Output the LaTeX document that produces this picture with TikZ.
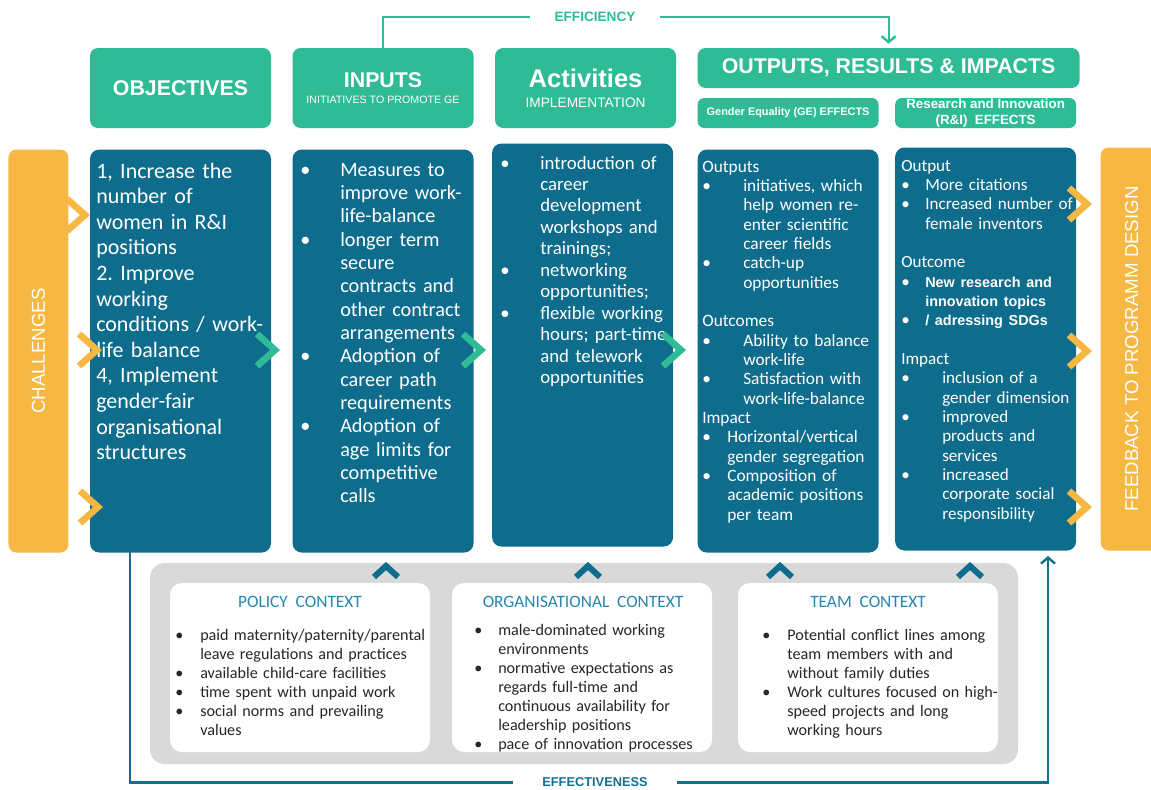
\documentclass[tikz,border=0pt]{standalone}
\usepackage{fontspec}
\setmainfont{Carlito}
\newfontfamily\headfont{Liberation Sans}
\usepackage{xcolor}
\usepackage{tikz}
\definecolor{headteal}{RGB}{46,187,150}
\definecolor{boxblue}{RGB}{14,108,140}
\definecolor{sideorange}{RGB}{246,184,67}
\definecolor{ctxgrey}{RGB}{217,217,217}
\definecolor{ctxblue}{RGB}{37,135,174}
\definecolor{ctxtext}{RGB}{38,38,38}
\definecolor{lineblue}{RGB}{22,110,143}
\usetikzlibrary{arrows.meta, positioning, calc}

\newlength{\bulw}
\newlength{\bulv}
\newcommand{\bi}{\makebox[\bulw][l]{•}}
\newcommand{\ci}{\hspace*{\bulw}}
\newcommand{\bj}{\makebox[\bulv][l]{•}}
\newcommand{\cj}{\hspace*{\bulv}}
\newcommand{\rifont}{\headfont\bfseries\fontsize{10.8}{14.5}\selectfont}
\frenchspacing

\begin{document}
\begin{tikzpicture}[x=0.75pt, y=-0.75pt,
    node distance=15.75pt,
    headbox/.style={rectangle, fill=headteal, rounded corners=6pt, text=white, align=center, inner sep=0pt, minimum width=135.75pt, minimum height=60pt},
    bluebox/.style={rectangle, fill=boxblue, rounded corners=7pt, minimum width=135.75pt, minimum height=302.25pt, inner sep=0pt},
    sidebox/.style={rectangle, fill=sideorange, rounded corners=6pt, minimum width=45pt, minimum height=302.25pt, inner sep=0pt},
    sidelabel/.style={rotate=90, text=white, font=\headfont\fontsize{14}{16}\selectfont},
    bodytext/.style={anchor=base west, inner sep=0pt, text=white, align=left, text width=130pt},
    ctxbox/.style={rectangle, fill=white, rounded corners=9pt, minimum width=195pt, minimum height=126.75pt, inner sep=0pt},
    ctxtitle/.style={text=ctxblue, font=\fontsize{13}{15}\selectfont},
    ctxlist/.style={anchor=base west, inner sep=0pt, text=ctxtext, align=left, text width=190pt, font={\fontsize{12.1}{14.3}\selectfont\setlength{\bulv}{18.75pt}}},
    chevron/.style={line width=5pt, line join=miter},
    upchevron/.style={boxblue, line width=4.5pt, line join=miter},
    flowline/.style={line width=1.6pt},
    flowarrow/.style={line width=1.6pt, -{Straight Barb[length=4.5pt, width=10.5pt, line width=1.8pt]}}
]
    \useasboundingbox (0,0) rectangle (1151,789);

    % Header row
    \node[headbox, font=\headfont\bfseries\fontsize{16}{18}\selectfont] (objhead) at (180.5,88) {OBJECTIVES};
    \node[headbox, right=of objhead, font=\headfont\fontsize{8}{11.6}\selectfont] (inphead) {{\bfseries\fontsize{16}{18}\selectfont INPUTS}\\INITIATIVES TO PROMOTE GE};
    \node[headbox, right=of inphead, font=\headfont\fontsize{10.3}{15}\selectfont] (acthead) {{\bfseries\fontsize{19.2}{21}\selectfont Activities}\\IMPLEMENTATION};
    \node[headbox, anchor=north west, minimum width=286.5pt, minimum height=30pt, font=\headfont\bfseries\fontsize{16}{18}\selectfont] (outhead) at ([xshift=15.75pt]acthead.north east) {OUTPUTS, RESULTS \& IMPACTS};
    \node[headbox, anchor=south west, minimum height=22.5pt, rounded corners=5pt, font=\headfont\bfseries\fontsize{8.2}{10}\selectfont] (gehead) at ([xshift=15.75pt]acthead.south east) {Gender Equality (GE) EFFECTS};
    \node[headbox, right=12pt of gehead, minimum height=22.5pt, rounded corners=5pt, font=\headfont\bfseries\fontsize{10}{12}\selectfont] (rihead) {Research and Innovation\\(R\&I)\ \ EFFECTS};

    % Main boxes
    \node[bluebox, below=of objhead] (objbox) {};
    \node[bluebox, below=of inphead] (inpbox) {};
    \node[bluebox, below=11.25pt of acthead, xshift=-2.25pt] (actbox) {};
    \node[bluebox, below=of gehead] (gebox) {};
    \node[bluebox, below=14.25pt of rihead] (ribox) {};
    \node[sidebox, left=of objbox] (challenges) {};
    \node[sidelabel] (challtext) at (challenges) {CHALLENGES};
    \node[sidebox, right=18pt of ribox, minimum width=46.5pt] (feedback) {};
    \node[sidelabel] (feedtext) at (feedback) {FEEDBACK TO PROGRAMM DESIGN};

    % Box texts
    \node[bodytext, font=\fontsize{16.5}{19.2}\selectfont] (objtext) at (96,178) {1, Increase the\\number of\\women in R\&I\\positions\\2. Improve\\working\\conditions / work-\\life balance\\4, Implement\\gender-fair\\organisational\\structures};
    \node[bodytext, font={\fontsize{15.2}{17.5}\selectfont\setlength{\bulw}{30pt}}] (inptext) at (300,176) {\bi Measures to\\ \ci improve work-\\ \ci life-balance\\ \bi longer term\\ \ci secure\\ \ci contracts and\\ \ci other contract\\ \ci arrangements\\ \bi Adoption of\\ \ci career path\\ \ci requirements\\ \bi Adoption of\\ \ci age limits for\\ \ci competitive\\ \ci calls};
    \node[bodytext, font={\fontsize{14.1}{16.1}\selectfont\setlength{\bulw}{30pt}}] (acttext) at (500,169) {\bi introduction of\\ \ci career\\ \ci development\\ \ci workshops and\\ \ci trainings;\\ \bi networking\\ \ci opportunities;\\ \bi flexible working\\ \ci hours; part-time\\ \ci and telework\\ \ci opportunities};
    \node[bodytext, font={\fontsize{13}{14.5}\selectfont\setlength{\bulw}{30.75pt}\setlength{\bulv}{18.75pt}}] (getext) at (702,172) {Outputs\\ \bi initiatives, which\\ \ci help women re-\\ \ci enter scientific\\ \ci career fields\\ \bi catch-up\\ \ci opportunities\\[14.5pt] Outcomes\\ \bi Ability to balance\\ \ci work-life\\ \bi Satisfaction with\\ \ci work-life-balance\\ Impact\\ \bj Horizontal/vertical\\ \cj gender segregation\\ \bj Composition of\\ \cj academic positions\\ \cj per team};
    \node[bodytext, font={\fontsize{12.8}{14.5}\selectfont\setlength{\bulw}{30.75pt}\setlength{\bulv}{18pt}}] (ritext) at (901,171) {Output\\ \bj More citations\\ \bj Increased number of\\ \cj female inventors\\[14.5pt] Outcome\\ \bj {\rifont New research and}\\ \cj {\rifont innovation topics}\\ \bj {\rifont / adressing SDGs}\\[14.5pt] Impact\\ \bi inclusion of a\\ \ci gender dimension\\ \bi improved\\ \ci products and\\ \ci services\\ \bi increased\\ \ci corporate social\\ \ci responsibility};

    % Chevrons between columns
    \foreach \tx/\ty in {85/215, 97/350, 98/507, 1087/204, 1087/351, 1087/507}
        \draw[chevron, sideorange] (\tx-18,\ty-16) -- (\tx,\ty) -- (\tx-18,\ty+16);
    \foreach \tx in {275, 481, 681}
        \draw[chevron, headteal] (\tx-18,334) -- (\tx,350) -- (\tx-18,366);

    % Context
    \node[rectangle, fill=ctxgrey, rounded corners=11pt, minimum width=651pt, minimum height=150.75pt] (context) at (584,663.5) {};
    \node[ctxbox] (policy) at (300,667.5) {};
    \node[ctxbox] (orga) at (582,667.5) {};
    \node[ctxbox] (team) at (868,667.5) {};
    \node[ctxtitle] (policytitle) at (300,602) {POLICY\ \ CONTEXT};
    \node[ctxtitle] (orgatitle) at (583,602) {ORGANISATIONAL\ \ CONTEXT};
    \node[ctxtitle] (teamtitle) at (868,602) {TEAM\ \ CONTEXT};
    \node[ctxlist] (policytext) at (175,640) {\bj paid maternity/paternity/parental\\ \cj leave regulations and practices\\ \bj available child-care facilities\\ \bj time spent with unpaid work\\ \bj social norms and prevailing\\ \cj values};
    \node[ctxlist, font={\fontsize{12.1}{14.3}\selectfont\setlength{\bulv}{18pt}}] (orgatext) at (474,635) {\bj male-dominated working\\ \cj environments\\ \bj normative expectations as\\ \cj regards full-time and\\ \cj continuous availability for\\ \cj leadership positions\\ \bj pace of innovation processes};
    \node[ctxlist] (teamtext) at (762,640) {\bj Potential conflict lines among\\ \cj team members with and\\ \cj without family duties\\ \bj Work cultures focused on high-\\ \cj speed projects and long\\ \cj working hours};
    \foreach \ux in {386, 588, 780, 970}
        \draw[upchevron] (\ux-12,577) -- (\ux,566) -- (\ux+12,577);

    % Efficiency and effectiveness
    \node[text=headteal, font=\headfont\bfseries\fontsize{10.2}{12}\selectfont, inner xsep=18pt, inner ysep=0pt] (efficiency) at (595,17) {EFFICIENCY};
    \draw[flowline, headteal] (inphead.north) |- (efficiency.west);
    \draw[flowarrow, headteal] (efficiency.east) -| ([yshift=3pt]outhead.north);
    \coordinate (efffrom) at (130,552);
    \coordinate (effto) at (1048,556);
    \node[text=lineblue, font=\headfont\bfseries\fontsize{9.6}{12}\selectfont, inner xsep=21.75pt, inner ysep=0pt] (effectiveness) at (595,782.5) {EFFECTIVENESS};
    \draw[flowline, lineblue] (efffrom) |- (effectiveness.west);
    \draw[flowarrow, lineblue] (effectiveness.east) -| (effto);
\end{tikzpicture}
\end{document}
